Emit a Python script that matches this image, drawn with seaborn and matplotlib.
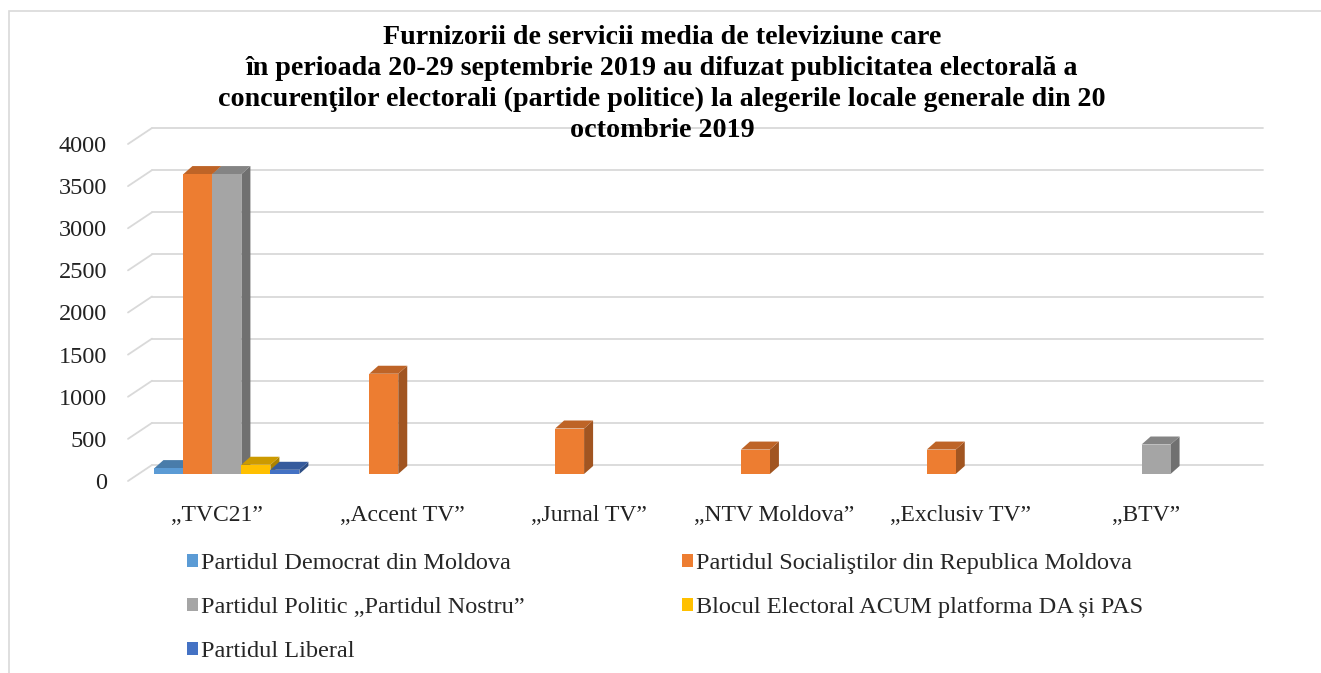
#!/usr/bin/python

'''
Plot TV electoral advertising by channel and party (3D-looking clustered bars)
'''

import numpy as np
import pandas as pd
import matplotlib
matplotlib.use('Agg')
from matplotlib import pyplot as plt
from matplotlib.patches import Polygon, Rectangle
from matplotlib.lines import Line2D
import matplotlib.transforms as mtransforms
import seaborn as sns

# - data ----------------------------------------------------------------------
channels = ['„TVC21”', '„Accent TV”', '„Jurnal TV”', '„NTV Moldova”',
            '„Exclusiv TV”', '„BTV”']
parties = ['Partidul Democrat din Moldova',
           'Partidul Socialiştilor din Republica Moldova',
           'Partidul Politic „Partidul Nostru”',
           'Blocul Electoral ACUM platforma DA și PAS',
           'Partidul Liberal']
pdm = [70, 0, 0, 0, 0, 0]
psrm = [3560, 1190, 540, 290, 290, 0]
pn = [3560, 0, 0, 0, 0, 350]
acum = [110, 0, 0, 0, 0, 0]
pl = [50, 0, 0, 0, 0, 0]
yticks = [0, 500, 1000, 1500, 2000, 2500, 3000, 3500, 4000]
colors = ['#5B9BD5', '#ED7D31', '#A5A5A5', '#FFC000', '#4472C4']

title = ('Furnizorii de servicii media de televiziune care\n'
         'în perioada 20-29 septembrie 2019 au difuzat publicitatea electorală a\n'
         'concurenţilor electorali (partide politice) la alegerile locale generale din 20\n'
         'octombrie 2019')

df = pd.DataFrame({'channel': channels * 5,
                   'party': np.repeat(parties, len(channels)),
                   'value': pdm + psrm + pn + acum + pl})


def shade(c, f):
    rgb = np.array(matplotlib.colors.to_rgb(c))
    return tuple(rgb * f)


# - plot ----------------------------------------------------------------------
serif = ['Liberation Serif', 'DejaVu Serif']
sns.set_style('white')
plt.rcParams['font.family'] = serif

W, H, DPI = 1321, 673, 100
fig = plt.figure(figsize=(W / DPI, H / DPI), dpi=DPI)
ax = fig.add_axes([134 / W, 1 - 474 / H, (1249 - 134) / W, (474 - 137) / H])

sns.barplot(data=df, x='channel', y='value', hue='party', hue_order=parties,
            palette=colors, saturation=1, width=0.78, gap=0, linewidth=0,
            errorbar=None, legend=False, ax=ax)
ax.set_ylim(0, 4000)
ax.set_xlim(-0.5, len(channels) - 0.5)
ax.set_xlabel('')
ax.set_ylabel('')
ax.set_facecolor('none')
for s in ax.spines.values():
    s.set_visible(False)
ax.grid(False)

ax.set_yticks(yticks)
ax.set_yticklabels([str(t) for t in yticks], fontsize=17.5, color='#222222')
ax.tick_params(axis='y', length=0, pad=19.5)
ax.tick_params(axis='x', length=0, pad=22, labelsize=17, labelcolor='#222222')
for lab in ax.get_yticklabels():
    lab.set_transform(lab.get_transform() +
                      mtransforms.ScaledTranslation(0, -7 / DPI, fig.dpi_scale_trans))
for lab in ax.get_xticklabels():
    lab.set_transform(lab.get_transform() +
                      mtransforms.ScaledTranslation(-10 / DPI, 0, fig.dpi_scale_trans))

fig.canvas.draw()
ident = mtransforms.IdentityTransform()

# back-wall gridlines (display pixels)
bb = ax.get_window_extent()
for t in yticks:
    yd = ax.transData.transform((0, t))[1]
    ax.add_artist(Line2D([bb.x0 - 6, bb.x0 + 18], [yd - 7, yd + 9], transform=ident,
                         color='#D9D9D9', lw=1.3, clip_on=False, zorder=1))
    ax.add_artist(Line2D([bb.x0 + 18, bb.x1 + 14], [yd + 9, yd + 9], transform=ident,
                         color='#D9D9D9', lw=1.3, clip_on=False, zorder=1))

# give each bar a depth: top and side faces
dx, dy = 9, 8
nch = len(channels)
for i, p in enumerate(ax.patches):
    k = i // nch
    p.set_zorder(2 + k * 0.1)
    h = p.get_height()
    if not h or np.isnan(h):
        continue
    x0, y0 = ax.transData.transform((p.get_x(), 0))
    x1, y1 = ax.transData.transform((p.get_x() + p.get_width(), h))
    col = p.get_facecolor()
    side = Polygon([(x1, y0), (x1 + dx, y0 + dy), (x1 + dx, y1 + dy), (x1, y1)],
                   closed=True, transform=ident, facecolor=shade(col[:3], 0.68),
                   lw=0, clip_on=False, zorder=2 + k * 0.1 - 0.05)
    top = Polygon([(x0, y1), (x1, y1), (x1 + dx, y1 + dy), (x0 + dx, y1 + dy)],
                  closed=True, transform=ident, facecolor=shade(col[:3], 0.8),
                  lw=0, clip_on=False, zorder=2 + k * 0.1 - 0.05)
    ax.add_artist(side)
    ax.add_artist(top)

# title
fig.text(662 / W, 1 - 25 / H, title, ha='center', va='top', fontsize=20.2,
         fontweight='bold', family=serif, linespacing=1.32, color='black')

# legend, row-major order in two columns
handles = [Rectangle((0, 0), 1, 1, facecolor=c, lw=0) for c in colors]
order = [0, 2, 4, 1, 3]
fig.legend([handles[i] for i in order], [parties[i] for i in order],
           ncol=2, loc='upper left', bbox_to_anchor=(187 / W, 1 - 553 / H),
           frameon=False, fontsize=17.5, handlelength=0.45, handleheight=0.45,
           handletextpad=0.12, labelspacing=0.95, columnspacing=6.5,
           borderpad=0, borderaxespad=0)

# chart-area border
fig.add_artist(Rectangle((9 / W, -0.05), 1.0, 1 - 11 / H + 0.05,
                         transform=fig.transFigure, fill=False,
                         edgecolor='#D9D9D9', lw=1.2))

plt.savefig('out.png', dpi=DPI)
